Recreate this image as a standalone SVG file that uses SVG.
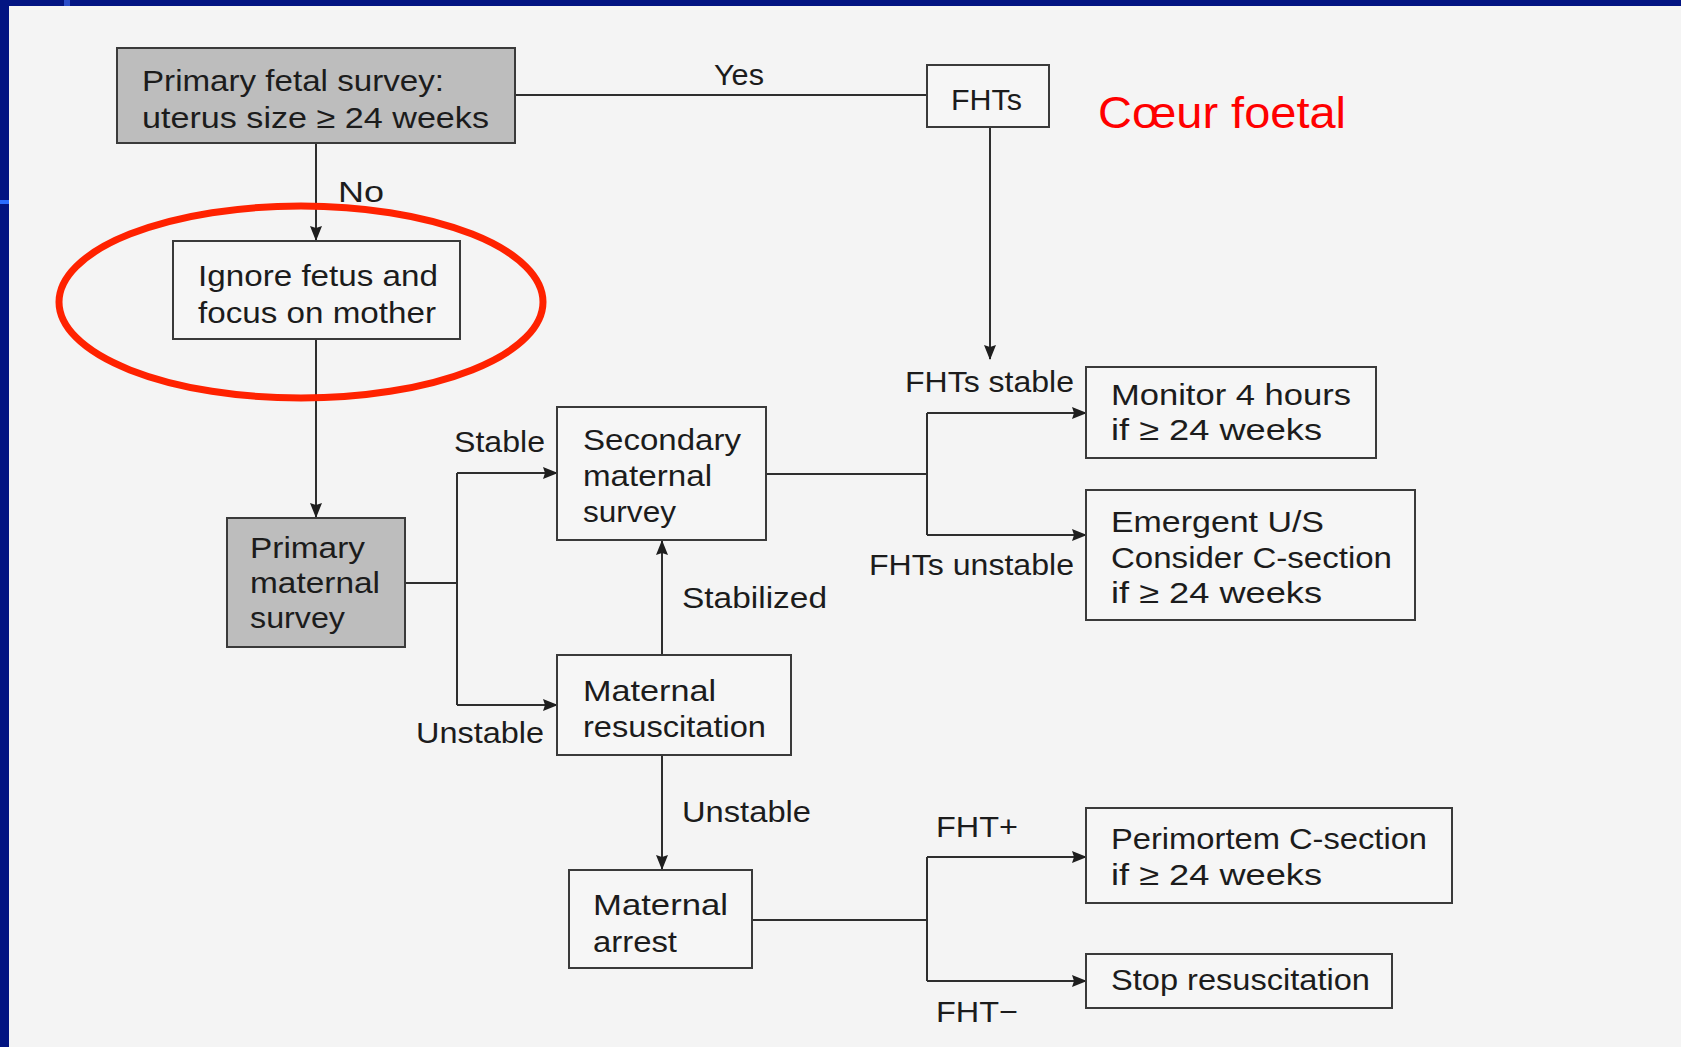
<svg xmlns="http://www.w3.org/2000/svg" width="1681" height="1047" viewBox="0 0 1681 1047">
  <defs>
    <marker id="arrow" markerWidth="15" markerHeight="12" refX="14" refY="6" orient="auto" markerUnits="userSpaceOnUse">
      <path d="M0,0 L15,6 L0,12 L2,6 Z" fill="#1e1e1e"/>
    </marker>
    <style>
      .box { fill: #f6f6f6; stroke: #3a3a3a; stroke-width: 2; }
      .box.shaded { fill: #bdbdbd; }
      .t, .lbl { font-family: "Liberation Sans", Arial, sans-serif; font-size: 30px; fill: #1c1c1c; }
      .edge { fill: none; stroke: #2e2e2e; stroke-width: 2; }
      .arr { marker-end: url(#arrow); }
    </style>
  </defs>

  <!-- page -->
  <rect x="0" y="0" width="1681" height="1047" fill="#f4f4f4"/>
  <rect x="0" y="0" width="1681" height="6" fill="#021482"/>
  <rect x="0" y="0" width="9" height="1047" fill="#021482"/>
  <rect x="64" y="0" width="6" height="6" fill="#2a4cc8"/>
  <rect x="0" y="200" width="9" height="4" fill="#2a6cff"/>

  <!-- connectors -->
  <g id="connectors">
    <path class="edge" d="M515,95 H927"/>
    <path class="edge arr" d="M316,143 V240"/>
    <path class="edge arr" d="M990,127 V359"/>
    <path class="edge arr" d="M316,339 V517"/>
    <path class="edge" d="M405,583 H457"/>
    <path class="edge" d="M457,473 V705"/>
    <path class="edge arr" d="M457,473 H557"/>
    <path class="edge arr" d="M457,705 H557"/>
    <path class="edge arr" d="M662,655 V541"/>
    <path class="edge arr" d="M662,755 V869"/>
    <path class="edge" d="M766,474 H927"/>
    <path class="edge" d="M927,413 V535"/>
    <path class="edge arr" d="M927,413 H1086"/>
    <path class="edge arr" d="M927,535 H1086"/>
    <path class="edge" d="M752,920 H927"/>
    <path class="edge" d="M927,857 V981"/>
    <path class="edge arr" d="M927,857 H1086"/>
    <path class="edge arr" d="M927,981 H1086"/>

    <text class="lbl" x="714" y="85" textLength="50" lengthAdjust="spacingAndGlyphs">Yes</text>
    <text class="lbl" x="338" y="202" textLength="46" lengthAdjust="spacingAndGlyphs">No</text>
    <text class="lbl" x="905" y="392" textLength="169" lengthAdjust="spacingAndGlyphs">FHTs stable</text>
    <text class="lbl" x="869" y="575" textLength="205" lengthAdjust="spacingAndGlyphs">FHTs unstable</text>
    <text class="lbl" x="454" y="452" textLength="91" lengthAdjust="spacingAndGlyphs">Stable</text>
    <text class="lbl" x="416" y="743" textLength="128" lengthAdjust="spacingAndGlyphs">Unstable</text>
    <text class="lbl" x="682" y="608" textLength="145" lengthAdjust="spacingAndGlyphs">Stabilized</text>
    <text class="lbl" x="682" y="822" textLength="129" lengthAdjust="spacingAndGlyphs">Unstable</text>
    <text class="lbl" x="936" y="837" textLength="82" lengthAdjust="spacingAndGlyphs">FHT+</text>
    <text class="lbl" x="936" y="1022" textLength="82" lengthAdjust="spacingAndGlyphs">FHT−</text>
  </g>

  <!-- nodes -->
  <g id="primary-fetal">
    <rect class="box shaded" x="117" y="48" width="398" height="95"/>
    <text class="t" x="142" y="91" textLength="302" lengthAdjust="spacingAndGlyphs">Primary fetal survey:</text>
    <text class="t" x="142" y="128" textLength="347" lengthAdjust="spacingAndGlyphs">uterus size ≥ 24 weeks</text>
  </g>
  <g id="fhts">
    <rect class="box" x="927" y="65" width="122" height="62"/>
    <text class="t" x="951" y="110" textLength="71" lengthAdjust="spacingAndGlyphs">FHTs</text>
  </g>
  <g id="ignore-fetus">
    <rect class="box" x="173" y="241" width="287" height="98"/>
    <text class="t" x="198" y="286" textLength="240" lengthAdjust="spacingAndGlyphs">Ignore fetus and</text>
    <text class="t" x="198" y="323" textLength="238" lengthAdjust="spacingAndGlyphs">focus on mother</text>
  </g>
  <g id="primary-maternal">
    <rect class="box shaded" x="227" y="518" width="178" height="129"/>
    <text class="t" x="250" y="558" textLength="115" lengthAdjust="spacingAndGlyphs">Primary</text>
    <text class="t" x="250" y="593" textLength="130" lengthAdjust="spacingAndGlyphs">maternal</text>
    <text class="t" x="250" y="628" textLength="95" lengthAdjust="spacingAndGlyphs">survey</text>
  </g>
  <g id="secondary-maternal">
    <rect class="box" x="557" y="407" width="209" height="133"/>
    <text class="t" x="583" y="450" textLength="158" lengthAdjust="spacingAndGlyphs">Secondary</text>
    <text class="t" x="583" y="486" textLength="129" lengthAdjust="spacingAndGlyphs">maternal</text>
    <text class="t" x="583" y="522" textLength="93" lengthAdjust="spacingAndGlyphs">survey</text>
  </g>
  <g id="maternal-resuscitation">
    <rect class="box" x="557" y="655" width="234" height="100"/>
    <text class="t" x="583" y="701" textLength="133" lengthAdjust="spacingAndGlyphs">Maternal</text>
    <text class="t" x="583" y="737" textLength="183" lengthAdjust="spacingAndGlyphs">resuscitation</text>
  </g>
  <g id="maternal-arrest">
    <rect class="box" x="569" y="870" width="183" height="98"/>
    <text class="t" x="593" y="915" textLength="135" lengthAdjust="spacingAndGlyphs">Maternal</text>
    <text class="t" x="593" y="952" textLength="84" lengthAdjust="spacingAndGlyphs">arrest</text>
  </g>
  <g id="monitor">
    <rect class="box" x="1086" y="367" width="290" height="91"/>
    <text class="t" x="1111" y="405" textLength="240" lengthAdjust="spacingAndGlyphs">Monitor 4 hours</text>
    <text class="t" x="1111" y="440" textLength="211" lengthAdjust="spacingAndGlyphs">if ≥ 24 weeks</text>
  </g>
  <g id="emergent">
    <rect class="box" x="1086" y="490" width="329" height="130"/>
    <text class="t" x="1111" y="532" textLength="213" lengthAdjust="spacingAndGlyphs">Emergent U/S</text>
    <text class="t" x="1111" y="568" textLength="281" lengthAdjust="spacingAndGlyphs">Consider C-section</text>
    <text class="t" x="1111" y="603" textLength="211" lengthAdjust="spacingAndGlyphs">if ≥ 24 weeks</text>
  </g>
  <g id="perimortem">
    <rect class="box" x="1086" y="808" width="366" height="95"/>
    <text class="t" x="1111" y="849" textLength="316" lengthAdjust="spacingAndGlyphs">Perimortem C-section</text>
    <text class="t" x="1111" y="885" textLength="211" lengthAdjust="spacingAndGlyphs">if ≥ 24 weeks</text>
  </g>
  <g id="stop">
    <rect class="box" x="1086" y="954" width="306" height="54"/>
    <text class="t" x="1111" y="990" textLength="259" lengthAdjust="spacingAndGlyphs">Stop resuscitation</text>
  </g>

  <!-- annotations -->
  <g id="annotation">
    <ellipse cx="301" cy="302" rx="242" ry="96" fill="none" stroke="#ff2200" stroke-width="7"/>
    <text x="1098" y="128" font-family="Liberation Sans, Arial, sans-serif" font-size="45" fill="#ff0000" textLength="248" lengthAdjust="spacingAndGlyphs">Cœur foetal</text>
  </g>
</svg>
